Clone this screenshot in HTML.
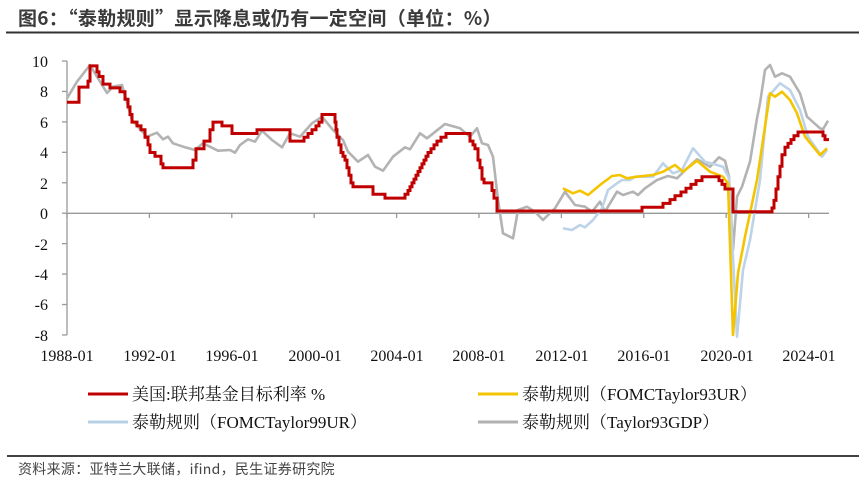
<!DOCTYPE html>
<html><head><meta charset="utf-8"><style>
body{margin:0;background:#fff;width:859px;height:492px;overflow:hidden;position:relative}
.t{position:absolute;left:18px;top:4px;font:bold 19px "Noto Sans CJK SC",sans-serif;color:#3a3a3a;white-space:nowrap;letter-spacing:0.3px}
.src{position:absolute;left:18px;top:459px;font:14px "Noto Sans CJK SC",sans-serif;color:#444;white-space:nowrap;letter-spacing:0.3px}
svg{position:absolute;left:0;top:0}
svg text{font-family:"Liberation Serif","Noto Serif CJK SC",serif;fill:#111}
</style></head><body>
<div class="t">图6：“泰勒规则”显示降息或仍有一定空间（单位：%）</div>
<div class="src">资料来源：亚特兰大联储，ifind，民生证券研究院</div>
<svg width="859" height="492" id="s">
<line x1="6" y1="32.5" x2="859" y2="32.5" stroke="#333" stroke-width="2"/>
<line x1="7" y1="456" x2="859" y2="456" stroke="#444" stroke-width="2"/>
<g font-size="16" text-anchor="end">
<text x="48" y="67">10</text><text x="48" y="97">8</text><text x="48" y="128">6</text><text x="48" y="158">4</text><text x="48" y="189">2</text><text x="48" y="219">0</text><text x="48" y="250">-2</text><text x="48" y="280">-4</text><text x="48" y="310">-6</text><text x="48" y="341">-8</text>
</g>
<g font-size="16" text-anchor="middle">
<text x="67" y="361">1988-01</text><text x="150" y="361">1992-01</text><text x="232" y="361">1996-01</text><text x="315" y="361">2000-01</text><text x="397" y="361">2004-01</text><text x="479" y="361">2008-01</text><text x="562" y="361">2012-01</text><text x="644" y="361">2016-01</text><text x="727" y="361">2020-01</text><text x="809" y="361">2024-01</text>
</g>
<g stroke="#999" stroke-width="1.3" fill="none" id="ax">
<line x1="67" y1="61" x2="67" y2="335"/>
<line x1="67" y1="213.3" x2="829" y2="213.3"/>
</g>
<g font-size="17">
<line x1="88" y1="394" x2="128" y2="394" stroke="#c00000" stroke-width="3"/>
<text x="132" y="400">美国:联邦基金目标利率 %</text>
<line x1="88" y1="422" x2="128" y2="422" stroke="#b8d0e6" stroke-width="3"/>
<text x="132" y="428">泰勒规则（FOMCTaylor99UR）</text>
<line x1="478" y1="394" x2="518" y2="394" stroke="#f5c400" stroke-width="3"/>
<text x="522" y="400">泰勒规则（FOMCTaylor93UR）</text>
<line x1="478" y1="422" x2="518" y2="422" stroke="#b0b0b0" stroke-width="3"/>
<text x="522" y="428">泰勒规则（Taylor93GDP）</text>
</g>
<polyline id="gray" fill="none" stroke="#b3b3b3" stroke-width="2.6" stroke-linejoin="round" points="67,98.3 77,81.7 90,65 97,76.7 107,93 113,86.7 122,85 132,120 147,136.7 157,132.7 163,139.3 168,136.7 173,143.3 185,147.3 195,150 203,143.3 218,150.7 230,150 235,152.7 240,145 248,139.3 255,141.7 262,130.7 272,140 282,147.3 290,133.3 300,136.7 312,123.3 322,116.7 333,130 343,140 348,151.7 358,161.7 368,155 375,166.7 383,170.7 393,156.7 405,147.3 410,149.3 420,133.3 427,138.3 445,124 460,128.3 470,136.7 477,128.3 482,143.3 488,145 493,156.7 498,200 503,233.3 513,238.3 518,210 527,206.7 535,211.7 543,220 555,208.3 565,191.7 575,205 585,206.7 592,211.7 600,201.7 605,211.7 617,191.7 623,195 633,191.7 638,195 645,188.3 657,180 668,176 677,178.3 687,168.3 697,159.3 710,166.7 719,157.3 725,160.7 729,176.7 733,250 737,196.7 742,186.7 750,161.7 757,118.3 760,103.3 765,70 770,65 775,76.7 782,73.3 790,76.7 800,93.3 807,116.7 820,128.3 823,129.3 828,120.7"/>
<polyline fill="none" stroke="#bcd3e8" stroke-width="2.6" stroke-linejoin="round" points="563,228.3 572,230 580,225 585,227.3 593,220 602,208.3 608,190 617,183.3 622,180 630,180 635,176.7 643,176.7 653,176.7 663,163.3 673,173.3 682,170 693,148.3 705,161.7 717,165 723,166.7 729,178.3 737,336.7 743,270 750,240 760,180 768,96.7 780,83.3 790,90 800,110 808,136.7 822,156.7 827,150"/>
<polyline fill="none" stroke="#f5c400" stroke-width="2.6" stroke-linejoin="round" points="563,188.3 573,193.3 580,190.7 588,195 600,185 612,176 620,175 627,178.3 637,176.7 653,175 663,171.7 675,165 683,171.7 697,160.7 708,170 710,171.7 723,176.7 728,183.3 733,335 738,273.3 745,236.7 750,213.3 757,180 763,140 770,93.3 775,96.7 782,91.7 790,100 797,113.3 805,136.7 820,155 827,148.3"/>
<polyline id="red" fill="none" stroke="#c00000" stroke-width="3"/>
</svg>
<script>
var st=[[67,7.3],[79,8.3],[88,8.7],[90,9.7],[97,9.3],[99,9.0],[103,8.5],[110,8.25],[120,8.0],[125,7.5],[128,7.0],[130,6.5],[132,6.0],[137,5.75],[141,5.5],[145,5.0],[148,4.5],[150,4.0],[155,3.75],[161,3.25],[163,3.0],[193,3.5],[196,4.25],[204,4.75],[210,5.5],[213,6.0],[222,5.75],[232,5.25],[257,5.5],[290,4.75],[304,5.0],[308,5.25],[312,5.5],[316,5.75],[319,6.0],[322,6.5],[335,6.0],[336,5.5],[337,5.0],[339,4.5],[341,4.0],[343,3.75],[345,3.5],[347,3.0],[349,2.5],[351,2.0],[353,1.75],[373,1.25],[385,1.0],[405,1.25],[408,1.5],[410,1.75],[412,2.0],[414,2.25],[416,2.5],[418,2.75],[420,3.0],[422,3.25],[424,3.5],[426,3.75],[428,4.0],[431,4.25],[434,4.5],[437,4.75],[441,5.0],[446,5.25],[470,4.75],[473,4.5],[475,4.25],[478,3.5],[480,3.0],[482,2.25],[484,2.0],[492,1.5],[494,1.0],[497,0.15],[642,0.4],[663,0.65],[670,0.9],[675,1.15],[681,1.4],[686,1.65],[691,1.9],[696,2.15],[702,2.4],[719,2.15],[722,1.9],[725,1.6],[733,0.1],[772,0.35],[774,0.85],[776,1.6],[778,2.4],[780,3.1],[782,3.85],[785,4.35],[788,4.6],[791,4.85],[794,5.1],[798,5.35],[823,5.1],[825,4.85],[829,4.85]];
var p=[];for(var i=0;i<st.length;i++){var y=(213.3-st[i][1]*15.2).toFixed(1);if(i>0)p.push(st[i][0]+","+(213.3-st[i-1][1]*15.2).toFixed(1));p.push(st[i][0]+","+y);}
document.getElementById("red").setAttribute("points",p.join(" "));
var ax=document.getElementById("ax"),h="";
for(var k=0;k<10;k++){var yy=61+k*30.44;h+='<line x1="62" y1="'+yy+'" x2="67" y2="'+yy+'"/>';var xx=67+k*82.4;h+='<line x1="'+xx+'" y1="213.3" x2="'+xx+'" y2="218"/>';}
ax.innerHTML+=h;
</script>
</body></html>
